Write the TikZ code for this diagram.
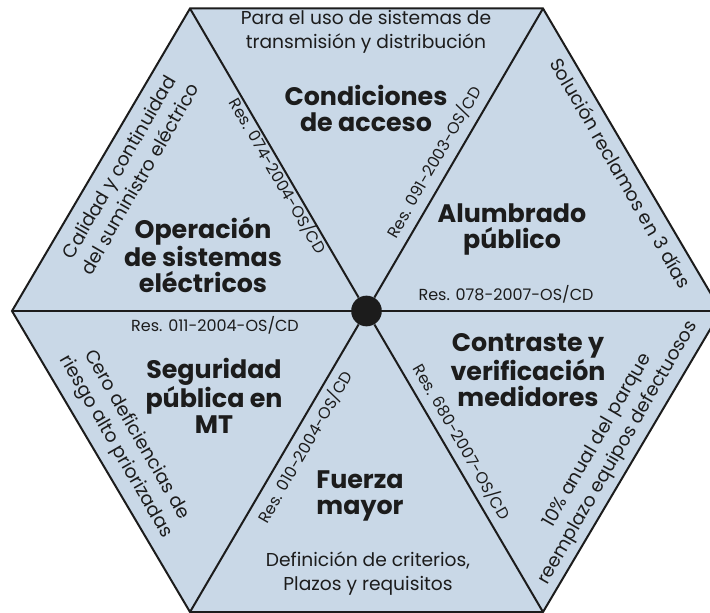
\documentclass[tikz,border=0pt]{standalone}
\usepackage{fontspec}
\setmainfont{Poppins}
\definecolor{hexfill}{RGB}{201,216,231}
\definecolor{inkdark}{RGB}{28,28,28}

\begin{document}
\begin{tikzpicture}[x=0.75pt, y=-0.75pt,
        sector/.style={draw=inkdark, line width=1.5pt, fill=hexfill, line join=miter},
        spoke/.style={draw=inkdark, line width=1.5pt},
        hub/.style={circle, fill=inkdark, minimum size=23pt, inner sep=0pt},
        topic/.style={font=\bfseries\fontsize{19}{19.5}\selectfont, align=center, text=inkdark, inner sep=0pt},
        remark/.style={font=\fontsize{14}{18}\selectfont, align=center, text=inkdark, inner sep=0pt},
        resol/.style={font=\fontsize{12}{14}\selectfont, text=inkdark, inner sep=0pt},
    ]
    \useasboundingbox (0,0) rectangle (710,613);
    \clip (0,0) rectangle (710,613);

    %Hexagon: corners and fill
    \coordinate (tl) at (190,8.5);
    \coordinate (tr) at (543,8.5);
    \coordinate (rt) at (721,311);
    \coordinate (br) at (543,612);
    \coordinate (bl) at (190,612);
    \coordinate (lf) at (12,311);
    \path[sector] (tl) -- (tr) -- (rt) -- (br) -- (bl) -- (lf) -- cycle;

    %Hub and spokes
    \node[hub] (hub) at (366.5,311) {};
    \foreach \corner in {tl,tr,rt,br,bl,lf}
        \draw[spoke] (hub) -- (\corner);

    %Sector: top
    \node[remark] (accesonote) at (366,32)  {Para el uso de sistemas de\\transmisión y distribución};
    \node[topic]  (acceso)     at (366,108) {Condiciones\\de acceso};

    %Sector: top right
    \node[topic]  (alumbrado)             at (512,229) {Alumbrado\\público};
    \node[resol]  (res078)                at (506,294) {Res. 078-2007-OS/CD};
    \node[remark, rotate=-60] (alumbradonote) at (621,173) {Solución reclamos en 3 días};
    \node[resol, rotate=60]   (res091)        at (434,162) {Res. 091-2003-OS/CD};

    %Sector: top left
    \node[topic]  (operacion)             at (203,255) {Operación\\de sistemas\\eléctricos};
    \node[remark, rotate=60]  (operacionnote) at (129,173) {Calidad y continuidad\\del suministro eléctrico};
    \node[resol, rotate=-60]  (res074)        at (278,176) {Res. 074-2004-OS/CD};

    %Sector: bottom left
    \node[resol]  (res011)                at (215,325) {Res. 011-2004-OS/CD};
    \node[topic]  (seguridad)             at (214,396) {Seguridad\\pública en\\MT};
    \node[remark, rotate=-60] (seguridadnote) at (126,441) {Cero deficiencias de\\riesgo alto priorizadas};
    \node[resol, rotate=60]   (res010)        at (305,447) {Res. 010-2004-OS/CD};

    %Sector: bottom
    \node[topic]  (fuerza)     at (360,496) {Fuerza\\mayor};
    \node[remark] (fuerzanote) at (368,574) {Definición de criterios,\\Plazos y requisitos};

    %Sector: bottom right
    \node[topic]  (contraste)             at (528,370) {Contraste y\\verificación\\medidores};
    \node[resol, rotate=-60]  (res680)        at (462,442) {Res. 680-2007-OS/CD};
    \node[remark, rotate=60]  (contrastenote) at (608,447) {10\% anual del parque\\reemplazo equipos defectuosos};
\end{tikzpicture}
\end{document}
